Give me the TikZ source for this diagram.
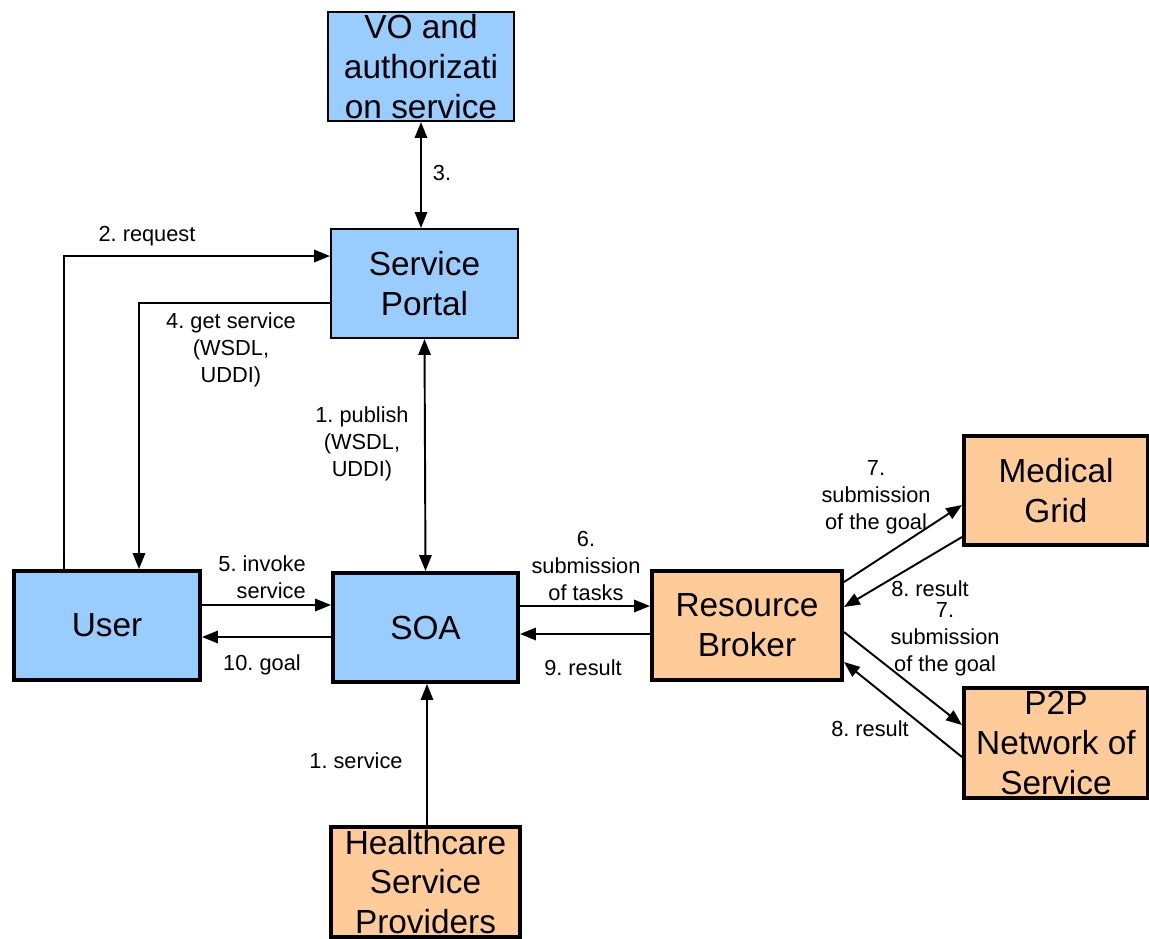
\documentclass[tikz,border=0pt]{standalone}
\usepackage{fontspec}
\setmainfont{Liberation Sans}
\usetikzlibrary{arrows.meta}
\definecolor{boxblue}{HTML}{99CCFF}
\definecolor{boxorange}{HTML}{FFCC99}
\frenchspacing
\begin{document}
\begin{tikzpicture}[x=0.02cm,y=-0.02cm,
  bbox/.style={draw=black, rectangle, inner sep=0pt},
  thinb/.style={bbox, line width=1.2pt},
  thickb/.style={bbox, line width=2.3pt},
  btext/.style={font=\fontsize{19}{22.7}\selectfont, align=center},
  lbl/.style={font=\frenchspacing\fontsize{12.4}{15.3}\selectfont, align=center, inner sep=0pt},
  arr/.style={line width=1.1pt, -{Triangle[length=9pt,width=7pt]}},
  darr/.style={line width=1.1pt, {Triangle[length=9pt,width=7pt]}-{Triangle[length=9pt,width=7pt]}}
]
\useasboundingbox (0,0) rectangle (1149,938);
% boxes
\node[thinb, fill=boxblue, minimum width=3.72cm, minimum height=2.18cm,
  label={[btext]center:VO and\\authorizati\\on service}] (vo) at (421,66.5) {};
\node[thinb, fill=boxblue, minimum width=3.74cm, minimum height=2.18cm,
  label={[btext]center:Service\\Portal}] (portal) at (424.5,283.5) {};
\node[thickb, fill=boxblue, minimum width=3.72cm, minimum height=2.18cm,
  label={[btext]center:User}] (user) at (107,625.5) {};
\node[thickb, fill=boxblue, minimum width=3.70cm, minimum height=2.18cm,
  label={[btext]center:SOA}] (soa) at (425.5,627.5) {};
\node[thickb, fill=boxorange, minimum width=3.80cm, minimum height=2.18cm,
  label={[btext]center:Resource\\Broker}] (rb) at (747,625.5) {};
\node[thickb, fill=boxorange, minimum width=3.68cm, minimum height=2.18cm,
  label={[btext]center:Medical\\Grid}] (mg) at (1056,490.5) {};
\node[thickb, fill=boxorange, minimum width=3.68cm, minimum height=2.20cm,
  label={[btext]center:P2P\\Network of\\Service}] (p2p) at (1056,743) {};
\node[thickb, fill=boxorange, minimum width=3.78cm, minimum height=2.20cm,
  label={[btext]center:Healthcare\\Service\\Providers}] (hsp) at (425.5,882) {};
% connectors
\draw[darr] (vo.south -| 421,0) -- (portal.north -| 421,0);
\draw[arr] (user.north -| 64,0) |- (portal.west |- 0,256);
\draw[arr] (portal.west |- 0,303) -| (user.north -| 139,0);
\draw[darr] (portal.south) -- (soa.north);
\draw[arr] (user.east |- 0,605) -- (soa.west |- 0,605);
\draw[arr] (soa.west |- 0,637) -- (user.east |- 0,637);
\draw[arr] (soa.east |- 0,606) -- (rb.west |- 0,606);
\draw[arr] (rb.west |- 0,634) -- (soa.east |- 0,634);
\draw[arr] (rb.east |- 0,582) -- (mg.west |- 0,505);
\draw[arr] (mg.west |- 0,537) -- (rb.east |- 0,607);
\draw[arr] (rb.east |- 0,632) -- (p2p.west |- 0,725);
\draw[arr] (p2p.west |- 0,757) -- (rb.east |- 0,662);
\draw[arr] (hsp.north -| 427,0) -- (soa.south -| 427,0);
% labels
\node[lbl] (l3) at (442,173) {3.};
\node[lbl] (l2) at (147,236) {2. request};
\node[lbl] (l4) at (231,350) {4. get service\\(WSDL,\\UDDI)};
\node[lbl] (l1p) at (362,444) {1. publish\\(WSDL,\\UDDI)};
\node[lbl, align=right, anchor=east] (l5) at (306,577) {5. invoke\\service};
\node[lbl] (l10) at (262,665) {10. goal};
\node[lbl] (l6) at (586,566) {6.\\submission\\of tasks};
\node[lbl] (l9) at (583,668) {9. result};
\node[lbl] (l7a) at (876,497) {7.\\submission\\of the goal};
\node[lbl] (l8a) at (930,589) {8. result};
\node[lbl] (l7b) at (945,639) {7.\\submission\\of the goal};
\node[lbl] (l8b) at (870,729) {8. result};
\node[lbl] (l1s) at (356,761) {1. service};
\end{tikzpicture}
\end{document}
